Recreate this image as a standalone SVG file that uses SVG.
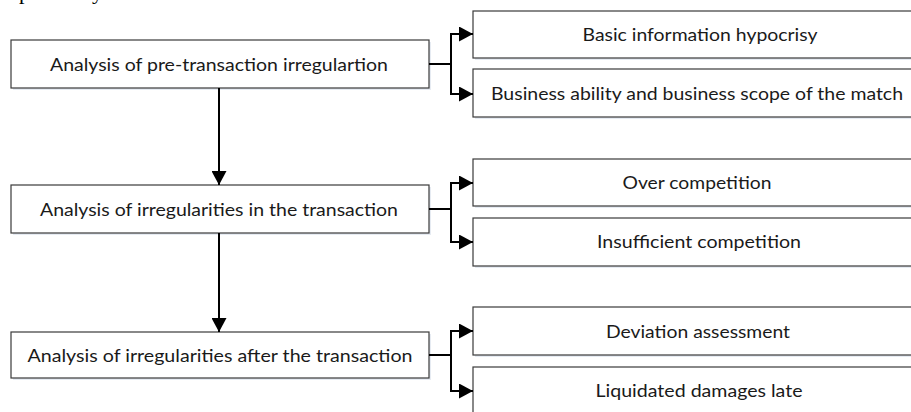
<svg xmlns="http://www.w3.org/2000/svg" width="911" height="412" viewBox="0 0 911 412">
<style>
.box{fill:#ffffff;stroke:#3a3a3a;stroke-width:1.2}
.sh{fill:#e6ebf2}
.t{font-family:Lato,"Open Sans","Liberation Sans",sans-serif;font-size:17px;fill:#1a1a1a;text-anchor:middle}
.c{fill:none;stroke:#000;stroke-width:2}
.frag{font-family:"Liberation Serif",serif;font-size:22px;fill:#000}
</style>
<defs>
<marker id="ah" viewBox="0 0 14 15" refX="14" refY="7.5" markerWidth="14" markerHeight="15" markerUnits="userSpaceOnUse" orient="auto">
<path d="M0,0 L14,7.5 L0,15 Z" fill="#000"/>
</marker>
</defs>
<text class="frag" x="19" y="-1">p</text>
<text class="frag" x="92" y="-1">y</text>

<g id="n1"><rect class="sh" x="13" y="42" width="418" height="48"/><rect class="box" x="11" y="40" width="418" height="48"/><text class="t" x="219" y="71" textLength="338" lengthAdjust="spacingAndGlyphs">Analysis of pre-transaction irregulartion</text></g>
<g id="n2"><rect class="sh" x="13" y="187" width="418" height="48"/><rect class="box" x="11" y="185" width="418" height="48"/><text class="t" x="219" y="216" textLength="358" lengthAdjust="spacingAndGlyphs">Analysis of irregularities in the transaction</text></g>
<g id="n3"><rect class="sh" x="13" y="334" width="418" height="46"/><rect class="box" x="11" y="332" width="418" height="46"/><text class="t" x="220" y="362" textLength="385" lengthAdjust="spacingAndGlyphs">Analysis of irregularities after the transaction</text></g>

<g id="n1a"><rect class="sh" x="475" y="13" width="450" height="47"/><rect class="box" x="473" y="11" width="450" height="47"/><text class="t" x="700" y="41" textLength="235" lengthAdjust="spacingAndGlyphs">Basic information hypocrisy</text></g>
<g id="n1b"><rect class="sh" x="475" y="71" width="450" height="48"/><rect class="box" x="473" y="69" width="450" height="48"/><text class="t" x="697" y="100" textLength="412" lengthAdjust="spacingAndGlyphs">Business ability and business scope of the match</text></g>
<g id="n2a"><rect class="sh" x="475" y="161" width="450" height="47"/><rect class="box" x="473" y="159" width="450" height="47"/><text class="t" x="697" y="189" textLength="149" lengthAdjust="spacingAndGlyphs">Over competition</text></g>
<g id="n2b"><rect class="sh" x="475" y="220" width="450" height="48"/><rect class="box" x="473" y="218" width="450" height="48"/><text class="t" x="699" y="248" textLength="204" lengthAdjust="spacingAndGlyphs">Insufficient competition</text></g>
<g id="n3a"><rect class="sh" x="475" y="309" width="450" height="48"/><rect class="box" x="473" y="307" width="450" height="48"/><text class="t" x="698" y="338" textLength="184" lengthAdjust="spacingAndGlyphs">Deviation assessment</text></g>
<g id="n3b"><rect class="sh" x="475" y="369" width="450" height="48"/><rect class="box" x="473" y="367" width="450" height="48"/><text class="t" x="699" y="397" textLength="207" lengthAdjust="spacingAndGlyphs">Liquidated damages late</text></g>

<g id="connectors">
<path class="c" d="M219,88 V185" marker-end="url(#ah)"/>
<path class="c" d="M219,233 V332" marker-end="url(#ah)"/>
<path class="c" d="M429,64 H451"/>
<path class="c" d="M451,63 V34 H473" marker-end="url(#ah)"/>
<path class="c" d="M451,63 V94 H473" marker-end="url(#ah)"/>
<path class="c" d="M429,209 H451"/>
<path class="c" d="M451,209 V183 H473" marker-end="url(#ah)"/>
<path class="c" d="M451,209 V242 H473" marker-end="url(#ah)"/>
<path class="c" d="M429,355 H451"/>
<path class="c" d="M451,355 V331 H473" marker-end="url(#ah)"/>
<path class="c" d="M451,355 V391 H473" marker-end="url(#ah)"/>
</g>
</svg>
